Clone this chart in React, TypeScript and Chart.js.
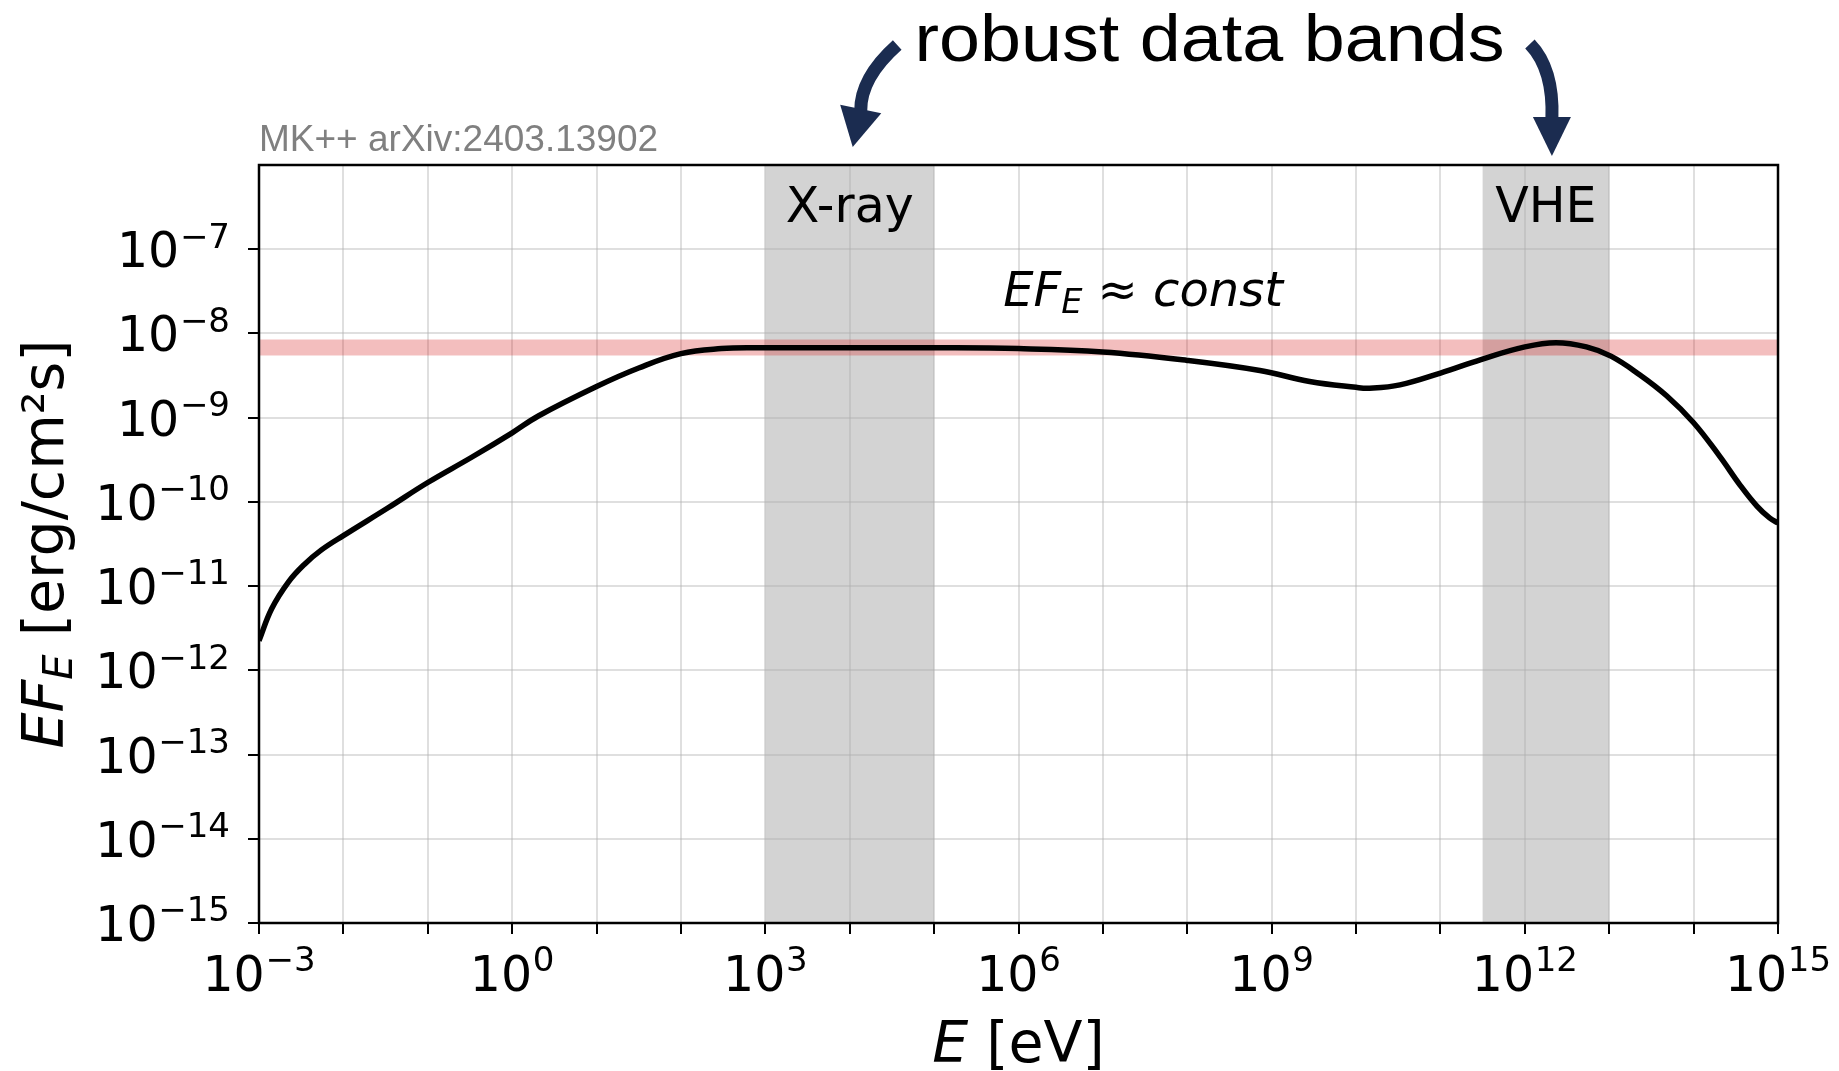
import React, { useEffect, useRef } from "react";
import { Chart, registerables } from "chart.js";

Chart.register(...registerables);

// ---- data ----
// log10 of photon energy E [eV]
const logEnergy = [
  -3, -2.85, -2.65, -2.46, -2.26, -2.0, -1.47, -1.0, -0.48, 0, 0.31, 1.0, 1.5,
  2.0, 2.48, 2.88, 4.0, 5.0, 6.0, 7.0, 8.0, 8.86, 9.45, 10.0, 10.16, 10.52,
  11.0, 11.48, 12.0, 12.37, 12.73, 13.02, 13.36, 13.68, 14.0, 14.31, 14.55,
  14.75, 14.9, 15.0,
];
// log10 of E F_E [erg/cm^2 s]
const logFlux = [
  -11.65, -11.27, -10.95, -10.74, -10.57, -10.4, -10.07, -9.77, -9.47, -9.18,
  -8.98, -8.63, -8.41, -8.24, -8.18, -8.17, -8.17, -8.17, -8.18, -8.22, -8.32,
  -8.44, -8.57, -8.64, -8.65, -8.61, -8.47, -8.31, -8.16, -8.11, -8.16, -8.27,
  -8.49, -8.74, -9.06, -9.46, -9.8, -10.05, -10.19, -10.25,
];
const constLevel = 6.8e-9;
const constRange = [1e-3, 1e15];

const bandLabels = ["X-ray", "VHE"];
const bandStart = [1e3, 3.16e11];
const bandEnd = [1e5, 1e13];

const xGridExponents = [-3, -2, -1, 0, 1, 2, 3, 4, 5, 6, 7, 8, 9, 10, 11, 12, 13, 14, 15];
const xLabelExponents = [-3, 0, 3, 6, 9, 12, 15];
const yGridExponents = [-15, -14, -13, -12, -11, -10, -9, -8, -7];
const yLabelExponents = [-15, -14, -13, -12, -11, -10, -9, -8, -7];

const titleText = "robust data bands";
const creditText = "MK++ arXiv:2403.13902";
const annotationAnchor = { x: 3e7, y: 3e-8 };

// ---- styling ----
const DV = '"DejaVu Sans"';
const LIB = '"Liberation Sans", Arial, sans-serif';
const NAVY = "#1b2c50";

const pow10 = (k: number) => Number("1e" + k);
const expText = (k: number) => (k < 0 ? "\u2212" + -k : String(k));

type Seg = { t: string; font: string; dy?: number };

function segWidth(ctx: CanvasRenderingContext2D, segs: Seg[]) {
  let w = 0;
  for (const s of segs) {
    ctx.font = s.font;
    w += ctx.measureText(s.t).width;
  }
  return w;
}
function drawSegs(ctx: CanvasRenderingContext2D, segs: Seg[], x: number, y: number) {
  let cx = x;
  ctx.textAlign = "left";
  ctx.textBaseline = "alphabetic";
  for (const s of segs) {
    ctx.font = s.font;
    ctx.fillText(s.t, cx, y + (s.dy || 0));
    cx += ctx.measureText(s.t).width;
  }
}
function powSegs(k: number): Seg[] {
  return [
    { t: "10", font: `49px ${DV}` },
    { t: " ", font: `2px ${DV}` },
    { t: expText(k), font: `34px ${DV}`, dy: -19.7 },
  ];
}

function drawArrow(
  ctx: CanvasRenderingContext2D,
  tail: [number, number],
  ctrl: [number, number],
  base: [number, number],
  tip: [number, number],
  halfW: number,
  shaftW: number
) {
  ctx.save();
  ctx.strokeStyle = NAVY;
  ctx.fillStyle = NAVY;
  ctx.lineWidth = shaftW;
  ctx.lineCap = "butt";
  ctx.beginPath();
  ctx.moveTo(tail[0], tail[1]);
  ctx.quadraticCurveTo(ctrl[0], ctrl[1], base[0], base[1] + 2);
  ctx.stroke();
  const dx = tip[0] - base[0];
  const dy = tip[1] - base[1];
  const L = Math.hypot(dx, dy);
  const px = -dy / L;
  const py = dx / L;
  ctx.beginPath();
  ctx.moveTo(base[0] + px * halfW, base[1] + py * halfW);
  ctx.lineTo(tip[0], tip[1]);
  ctx.lineTo(base[0] - px * halfW, base[1] - py * halfW);
  ctx.closePath();
  ctx.fill();
  ctx.restore();
}

const bandPlugin = {
  id: "bands",
  beforeDraw(chart: any) {
    const { ctx, chartArea: a, scales } = chart;
    const xs = scales.x;
    ctx.save();
    ctx.fillStyle = "#d3d3d3";
    for (let i = 0; i < bandLabels.length; i++) {
      const x1 = xs.getPixelForValue(bandStart[i]);
      const x2 = xs.getPixelForValue(bandEnd[i]);
      ctx.fillRect(x1, a.top, x2 - x1, a.bottom - a.top);
    }
    ctx.restore();
  },
};

const overlayPlugin = {
  id: "overlay",
  afterDraw(chart: any) {
    const { ctx, chartArea: a, scales } = chart;
    const xs = scales.x;
    const ys = scales.y;
    ctx.save();

    // frame
    ctx.strokeStyle = "#000";
    ctx.lineWidth = 2.5;
    ctx.strokeRect(a.left, a.top, a.right - a.left, a.bottom - a.top);

    ctx.fillStyle = "#000";
    // y tick labels
    for (const k of yLabelExponents) {
      const y = ys.getPixelForValue(pow10(k));
      const segs = powSegs(k);
      const w = segWidth(ctx, segs);
      drawSegs(ctx, segs, a.left - 29 - w, y + 18);
    }
    // x tick labels
    for (const k of xLabelExponents) {
      const x = xs.getPixelForValue(pow10(k));
      const segs = powSegs(k);
      const w = segWidth(ctx, segs);
      drawSegs(ctx, segs, x - w / 2, a.bottom + 68);
    }

    // x axis title
    {
      const segs: Seg[] = [
        { t: "E", font: `italic 57px ${DV}` },
        { t: " [eV]", font: `57px ${DV}` },
      ];
      const w = segWidth(ctx, segs);
      drawSegs(ctx, segs, (a.left + a.right) / 2 - w / 2, a.bottom + 139);
    }
    // y axis title
    {
      const segs: Seg[] = [
        { t: "EF", font: `italic 57px ${DV}` },
        { t: "E", font: `italic 40px ${DV}`, dy: 8.5 },
        { t: " [erg/cm\u00b2s]", font: `57px ${DV}` },
      ];
      const w = segWidth(ctx, segs);
      ctx.save();
      ctx.translate(a.left - 196, (a.top + a.bottom) / 2);
      ctx.rotate(-Math.PI / 2);
      drawSegs(ctx, segs, -w / 2, 0);
      ctx.restore();
    }

    // band labels
    ctx.font = `49px ${DV}`;
    ctx.textAlign = "center";
    ctx.textBaseline = "alphabetic";
    for (let i = 0; i < bandLabels.length; i++) {
      const xc = xs.getPixelForValue(Math.sqrt(bandStart[i] * bandEnd[i]));
      ctx.fillText(bandLabels[i], xc, a.top + 57);
    }

    // EF_E ≈ const annotation
    {
      const segs: Seg[] = [
        { t: "EF", font: `italic 48px ${DV}` },
        { t: "E", font: `italic 33.6px ${DV}`, dy: 7 },
        { t: " \u2248 ", font: `48px ${DV}` },
        { t: "const", font: `italic 48px ${DV}` },
      ];
      const w = segWidth(ctx, segs);
      const cx = xs.getPixelForValue(annotationAnchor.x);
      const cy = ys.getPixelForValue(annotationAnchor.y);
      drawSegs(ctx, segs, cx - w / 2, cy + 13);
    }

    // credit text
    ctx.fillStyle = "#808080";
    ctx.font = `37px ${LIB}`;
    ctx.textAlign = "left";
    ctx.fillText(creditText, a.left, a.top - 14);

    // title
    ctx.fillStyle = "#000";
    ctx.save();
    ctx.font = `67px ${LIB}`;
    ctx.textAlign = "center";
    ctx.translate(1209.5, 61);
    ctx.scale(1.1, 1);
    ctx.fillText(titleText, 0, 0);
    ctx.restore();

    // arrows pointing to the bands
    const c0 = xs.getPixelForValue(Math.sqrt(bandStart[0] * bandEnd[0])) + 3;
    const t0 = a.top - 18;
    drawArrow(ctx, [c0 + 44.5, t0 - 102], [c0 + 7.5, t0 - 69], [c0 + 8, t0 - 38], [c0, t0], 21, 13);
    const c1 = xs.getPixelForValue(Math.sqrt(bandStart[1] * bandEnd[1])) + 6;
    const t1 = a.top - 9;
    drawArrow(ctx, [c1 - 22, t1 - 112], [c1 + 2, t1 - 87], [c1, t1 - 39], [c1, t1], 19, 13);

    ctx.restore();
  },
};

export default function App() {
  const ref = useRef<HTMLCanvasElement>(null);
  useEffect(() => {
    const canvas = ref.current;
    if (!canvas) return;
    const curve = logEnergy.map((e, i) => ({ x: Math.pow(10, e), y: Math.pow(10, logFlux[i]) }));
    const constLine = constRange.map((x) => ({ x, y: constLevel }));
    const gridCommon = {
      color: "rgba(176,176,176,0.4)",
      lineWidth: 2,
      drawTicks: true,
      tickLength: 11,
      tickColor: "#000",
      tickWidth: 2,
    };
    const chart = new Chart(canvas, {
      type: "line",
      data: {
        datasets: [
          {
            label: "EF_E",
            data: curve,
            borderColor: "#000",
            borderWidth: 5.5,
            pointRadius: 0,
            fill: false,
            tension: 0.4,
            borderJoinStyle: "round",
          },
          {
            label: "const",
            data: constLine,
            borderColor: "rgba(214,39,40,0.3)",
            borderWidth: 16,
            borderCapStyle: "butt",
            pointRadius: 0,
            fill: false,
          },
        ],
      },
      options: {
        responsive: false,
        animation: false,
        events: [],
        layout: { padding: { top: 165, right: 61, left: 0, bottom: 0 } },
        plugins: {
          legend: { display: false },
          tooltip: { enabled: false },
          title: { display: false },
        },
        scales: {
          x: {
            type: "logarithmic",
            position: "bottom",
            min: 1e-3,
            max: 1e15,
            afterBuildTicks: (s: any) => {
              s.ticks = xGridExponents.map((k) => ({ value: pow10(k) }));
            },
            afterFit: (s: any) => {
              s.height = 148;
            },
            ticks: { display: false },
            grid: gridCommon,
            border: { display: false },
          },
          y: {
            type: "logarithmic",
            position: "left",
            min: 1e-15,
            max: 1e-6,
            afterBuildTicks: (s: any) => {
              s.ticks = yGridExponents.map((k) => ({ value: pow10(k) }));
            },
            afterFit: (s: any) => {
              s.width = 259;
            },
            ticks: { display: false },
            grid: gridCommon,
            border: { display: false },
          },
        },
      } as any,
      plugins: [bandPlugin, overlayPlugin],
    });
    return () => chart.destroy();
  }, []);

  return (
    <div style={{ position: "fixed", left: 0, top: 0, width: 1839, height: 1071, background: "#fff" }}>
      <canvas ref={ref} width={1839} height={1071} style={{ width: 1839, height: 1071, display: "block" }} />
    </div>
  );
}
